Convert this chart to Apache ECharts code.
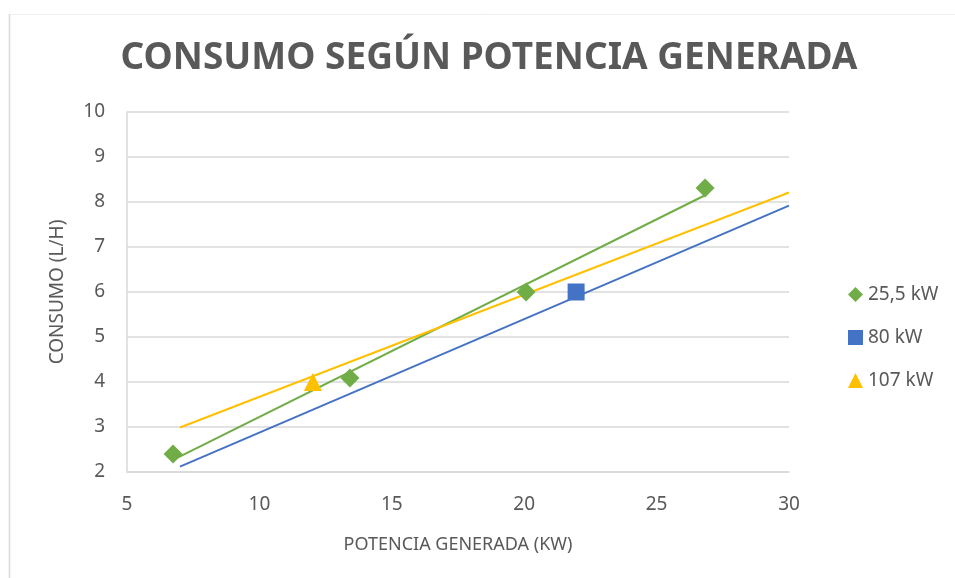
<!DOCTYPE html>
<html>
<head>
<meta charset="utf-8">
<script src="https://cdn.jsdelivr.net/npm/echarts@6/dist/echarts.min.js"></script>
<style>html,body{margin:0;padding:0;background:#fff;}#c{width:955px;height:578px;}</style>
</head>
<body>
<div id="c"></div>
<script>
// Data
const seriesNames = ['25,5 kW', '80 kW', '107 kW'];
const pts255 = [[6.74, 2.4], [13.42, 4.09], [20.07, 6.0], [26.83, 8.31]];
const pts80 = [[21.96, 6.0]];
const pts107 = [[12.02, 4.0]];
// trendline endpoints
const trend255 = [[6.74, 2.27], [26.83, 8.15]];
const trend80 = [[7.0, 2.12], [30.0, 7.92]];
const trend107 = [[7.0, 2.99], [30.0, 8.21]];
const xTicks = [5, 10, 15, 20, 25, 30];
const yTicks = [2, 3, 4, 5, 6, 7, 8, 9, 10];
const titleText = 'CONSUMO SEGÚN POTENCIA GENERADA';

const colors = ['#70AD47', '#4472C4', '#FFC000'];
const txt = '#595959';
const font = 'Noto Sans';

const chart = echarts.init(document.getElementById('c'));
chart.setOption({
  animation: false,
  backgroundColor: '#fff',
  textStyle: { fontFamily: font },
  graphic: [
    { type: 'line', shape: { x1: 9.5, y1: 14, x2: 9.5, y2: 578 }, style: { stroke: '#d9d9d9', lineWidth: 1.5 } },
    { type: 'line', shape: { x1: 10, y1: 14.5, x2: 955, y2: 14.5 }, style: { stroke: '#eeeeee', lineWidth: 1 } },
    { type: 'text', x: 489, y: 58, scaleX: 1.0,
      style: { text: titleText, fontFamily: font, fontSize: 37, fontWeight: 'bold', fill: txt,
               align: 'center', verticalAlign: 'middle' } }
  ],
  grid: { left: 127, right: 166, top: 112, bottom: 106 },
  legend: {
    orient: 'vertical', left: 843, top: 280, itemGap: 24,
    itemWidth: 15, itemHeight: 15,
    textStyle: { fontFamily: font, fontSize: 19, color: txt },
    data: [
      { name: seriesNames[0], icon: 'diamond' },
      { name: seriesNames[1], icon: 'rect' },
      { name: seriesNames[2], icon: 'triangle' }
    ]
  },
  xAxis: {
    type: 'value', min: xTicks[0], max: xTicks[xTicks.length - 1], interval: 5,
    name: 'POTENCIA GENERADA (KW)', nameLocation: 'middle', nameGap: 64,
    nameTextStyle: { fontFamily: font, fontSize: 18, color: txt },
    axisLine: { show: true, lineStyle: { color: '#d9d9d9', width: 1.5 } },
    axisTick: { show: false },
    splitLine: { show: false },
    axisLabel: { fontFamily: font, fontSize: 19, color: txt, margin: 23 }
  },
  yAxis: {
    type: 'value', min: yTicks[0], max: yTicks[yTicks.length - 1], interval: 1,
    name: 'CONSUMO (L/H)', nameLocation: 'middle', nameGap: 60,
    nameTextStyle: { fontFamily: font, fontSize: 19, color: txt },
    axisLine: { show: true, lineStyle: { color: '#d9d9d9', width: 1.5 } },
    axisTick: { show: false },
    splitLine: { show: true, lineStyle: { color: '#d9d9d9', width: 1.5 } },
    axisLabel: { fontFamily: font, fontSize: 19, color: txt, margin: 22 }
  },
  series: [
    { name: seriesNames[0], type: 'scatter', symbol: 'diamond', symbolSize: 19, data: pts255, itemStyle: { color: colors[0], opacity: 1 }, z: 5 },
    { name: seriesNames[1], type: 'scatter', symbol: 'rect', symbolSize: 17, data: pts80, itemStyle: { color: colors[1], opacity: 1 }, z: 5 },
    { name: seriesNames[2], type: 'scatter', symbol: 'triangle', symbolSize: 18, data: pts107, itemStyle: { color: colors[2], opacity: 1 }, z: 5 },
    { name: 't1', type: 'line', data: trend255, showSymbol: false, symbol: 'none', lineStyle: { color: colors[0], width: 2 }, silent: true, z: 3 },
    { name: 't2', type: 'line', data: trend80, showSymbol: false, symbol: 'none', lineStyle: { color: colors[1], width: 2 }, silent: true, z: 3 },
    { name: 't3', type: 'line', data: trend107, showSymbol: false, symbol: 'none', lineStyle: { color: colors[2], width: 2 }, silent: true, z: 3 }
  ]
});
</script>
</body>
</html>
